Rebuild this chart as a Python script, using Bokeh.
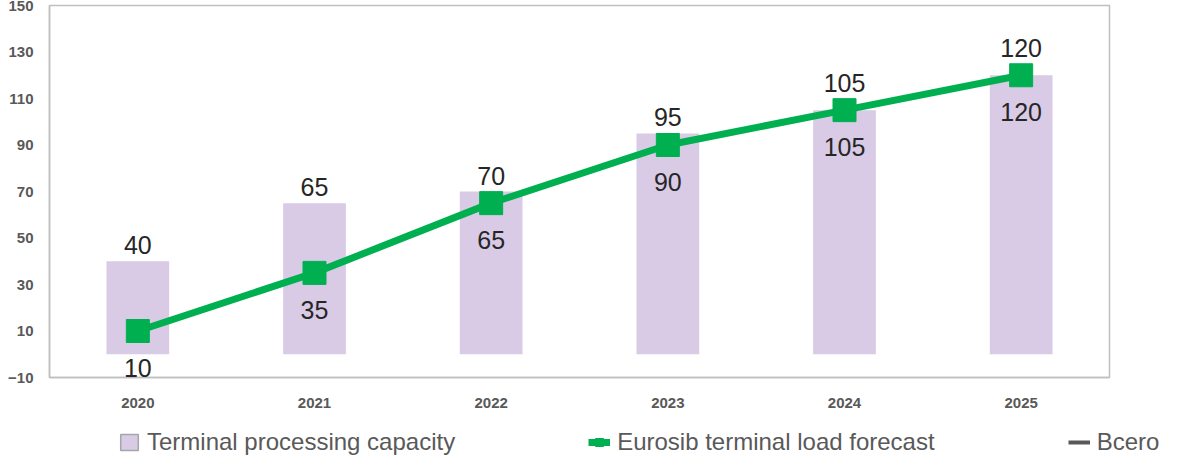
from bokeh.plotting import figure
from bokeh.layouts import column
from bokeh.models import Legend, LegendItem, ColumnDataSource, FixedTicker, LabelSet, Range1d
from bokeh.core.properties import value
from bokeh.embed import file_html
from bokeh.resources import INLINE

years = ["2020", "2021", "2022", "2023", "2024", "2025"]
capacity = [40, 65, 70, 95, 105, 120]
forecast = [10, 35, 65, 90, 105, 120]
y_ticks = [-10, 10, 30, 50, 70, 90, 110, 130, 150]
legend_labels = ["Terminal processing capacity", "Eurosib terminal load forecast", "Bcero"]

FONT = "Liberation Sans"
GRAY = "#595959"
LAV = "#d9cbe6"
GREEN = "#00b050"

p = figure(width=1179, height=422, x_range=years, y_range=Range1d(-10, 150),
           output_backend="svg", toolbar_location=None,
           min_border_left=49, min_border_right=70, min_border_top=5, min_border_bottom=45)
p.xgrid.visible = False
p.ygrid.visible = False
p.outline_line_color = "#bfbfbf"
p.outline_line_width = 1.5

# push bar label higher where the line marker sits at the bar top
cap_off = [18 if abs(c - f) < 5 else 7 for c, f in zip(capacity, forecast)]

src = ColumnDataSource(dict(x=years, cap=capacity, fc=forecast, capoff=cap_off,
                            capl=[str(v) for v in capacity], fcl=[str(v) for v in forecast]))

p.vbar(x="x", top="cap", bottom=0, width=0.355, source=src, fill_color=LAV, line_color=None)
p.line(x="x", y="fc", source=src, line_color=GREEN, line_width=7)
p.scatter(x="x", y="fc", source=src, marker="square", size=23, fill_color=GREEN, line_color=GREEN)

p.add_layout(LabelSet(x="x", y="cap", text="capl", source=src, text_align="center",
                      text_baseline="bottom", y_offset="capoff", text_font=value(FONT),
                      text_font_size="25px", text_color="#262626"))
p.add_layout(LabelSet(x="x", y="fc", text="fcl", source=src, text_align="center",
                      text_baseline="top", y_offset=-28, text_font=value(FONT),
                      text_font_size="25px", text_color="#262626"))

p.yaxis.ticker = FixedTicker(ticks=y_ticks)
for ax in (p.xaxis[0], p.yaxis[0]):
    ax.major_tick_line_color = None
    ax.minor_tick_line_color = None
    ax.axis_line_color = "#bfbfbf"
    ax.axis_line_width = 1.5
    ax.major_label_text_font = FONT
    ax.major_label_text_font_size = "15px"
    ax.major_label_text_font_style = "bold"
    ax.major_label_text_color = GRAY
p.xaxis.major_label_standoff = 14
p.yaxis.major_label_standoff = 10

# legend strip below the chart
q = figure(width=1179, height=40, x_range=Range1d(0, 1), y_range=Range1d(0, 1),
           output_backend="svg", toolbar_location=None,
           min_border_left=0, min_border_right=0, min_border_top=0, min_border_bottom=0)
q.axis.visible = False
q.xgrid.visible = False
q.ygrid.visible = False
q.outline_line_color = None

aligned_off = True
try:
    p.frame_align = False
    q.frame_align = False
except Exception:
    aligned_off = False

nan = float("nan")
r_bar = q.quad(left=[nan], right=[nan], bottom=[nan], top=[nan], fill_color=LAV,
               line_color="#a6a6a6", line_width=1.5)
r_ln = q.line(x=[nan], y=[nan], line_color=GREEN, line_width=7)
r_mk = q.scatter(x=[nan], y=[nan], marker="square", size=18, fill_color=GREEN, line_color=GREEN)
r_tot = q.line(x=[nan], y=[nan], line_color=GRAY, line_width=4)

legend = Legend(items=[
    LegendItem(label=legend_labels[0], renderers=[r_bar]),
    LegendItem(label=legend_labels[1], renderers=[r_ln, r_mk]),
    LegendItem(label=legend_labels[2], renderers=[r_tot]),
], orientation="horizontal", location=(118 if aligned_off else 69, 6), spacing=133,
    label_text_font=FONT, label_text_font_size="24px", label_text_color=GRAY,
    glyph_width=22, glyph_height=20, label_standoff=7,
    border_line_color=None, background_fill_alpha=0, margin=0, padding=4)
q.add_layout(legend, "center")

layout = column(p, q, spacing=0)
open("out.html", "w").write(file_html(layout, INLINE))
